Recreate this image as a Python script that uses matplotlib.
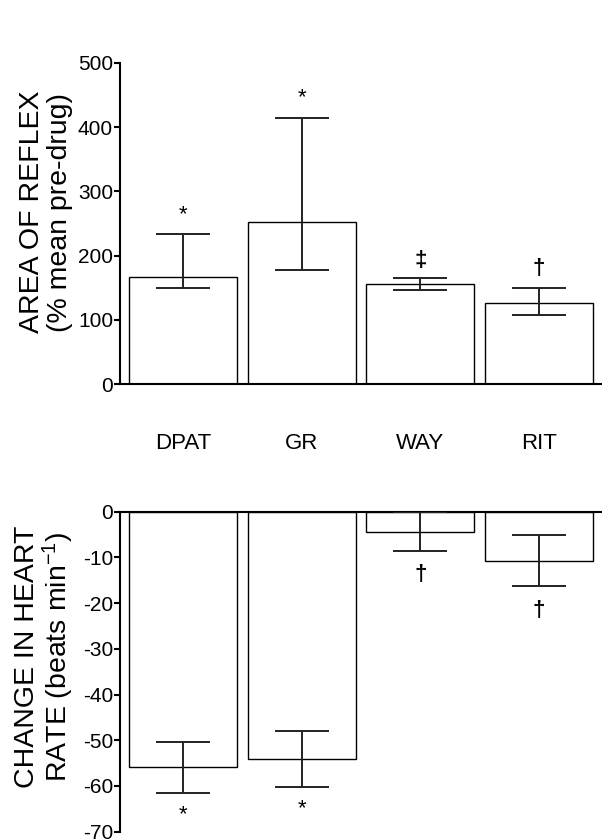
import numpy as np
import matplotlib
matplotlib.use("Agg")
from matplotlib import pyplot as plt

plt.rcParams["font.family"] = ["Liberation Sans", "DejaVu Sans"]
plt.rcParams["mathtext.fontset"] = "custom"
plt.rcParams["mathtext.rm"] = "Liberation Sans"
plt.rcParams["mathtext.it"] = "Liberation Sans:italic"
plt.rcParams["axes.unicode_minus"] = False

drugs = ["DPAT", "GR", "WAY", "RIT"]

# area of reflex (% of mean pre-drug), error bars are asymmetric
reflex_mean = [167, 253, 156.5, 126.5]
reflex_lower = [149, 178, 146.5, 108]
reflex_upper = [234, 414.5, 165, 150]
reflex_marks = ["*", "*", "\u2021", "\u2020"]
reflex_mark_y = [264, 446, 193, 180]
reflex_ticks = [0, 100, 200, 300, 400, 500]

# change in heart rate (beats/min)
hr_mean = [-55.9, -54.1, -4.4, -10.8]
hr_lower = [-61.6, -60.2, -8.6, -16.3]
hr_upper = [-50.3, -47.9, -0.1, -5.2]
hr_marks = ["*", "*", "\u2020", "\u2020"]
hr_mark_y = [-66.3, -64.9, -13.8, -21.7]
hr_ticks = [0, -10, -20, -30, -40, -50, -60, -70]

W, H = 602, 840
fig = plt.figure(figsize=(W / 100, H / 100), dpi=100)

ax1 = fig.add_axes([120 / W, 1 - 384.3 / H, 482 / W, (384.3 - 62.7) / H])
ax2 = fig.add_axes([120 / W, 1 - 831.7 / H, 482 / W, (831.7 - 511.7) / H])

x = np.arange(len(drugs))


def draw_panel(ax, mean, lower, upper, marks, mark_y):
    mean = np.array(mean)
    err = [mean - np.array(lower), np.array(upper) - mean]
    ax.bar(x, mean, width=0.91, color="white", edgecolor="black", linewidth=1.0, zorder=2)
    ax.errorbar(x, mean, yerr=err, fmt="none", ecolor="#222222", elinewidth=1.4,
                capsize=19.5, capthick=1.4, zorder=3)
    for xi, m, my in zip(x, marks, mark_y):
        weight = "normal" if m == "*" else "bold"
        ax.text(xi, my, m, fontsize=16, fontweight=weight, ha="center", va="center", zorder=4)
    ax.set_xlim(-0.534, 3.534)
    ax.spines["right"].set_visible(False)
    for s in ax.spines.values():
        s.set_linewidth(1.5)
    ax.tick_params(axis="y", direction="out", length=4, width=1.5, labelsize=15, pad=1)


draw_panel(ax1, reflex_mean, reflex_lower, reflex_upper, reflex_marks, reflex_mark_y)
ax1.set_ylim(0, 500)
ax1.spines["top"].set_visible(False)
ax1.set_yticks(reflex_ticks)
ax1.set_yticklabels([str(t) for t in reflex_ticks])
ax1.set_xticks(x)
ax1.set_xticklabels(drugs, fontsize=16)
ax1.tick_params(axis="x", length=0, pad=35)

draw_panel(ax2, hr_mean, hr_lower, hr_upper, hr_marks, hr_mark_y)
ax2.set_ylim(-70, 0)
ax2.spines["bottom"].set_visible(False)
ax2.set_yticks(hr_ticks)
ax2.set_yticklabels([str(t) for t in hr_ticks])
ax2.set_xticks([])

fig.text(46 / W, 1 - 212 / H, "AREA OF REFLEX\n(% mean pre-drug)", rotation=90,
         fontsize=20.5, ha="center", va="center", linespacing=1.1)
fig.text(45 / W, 1 - 657 / H, "CHANGE IN HEART\nRATE (beats min$^{-1}$)", rotation=90,
         fontsize=20.5, ha="center", va="center", linespacing=1.05)

fig.savefig("out.png", dpi=100)
